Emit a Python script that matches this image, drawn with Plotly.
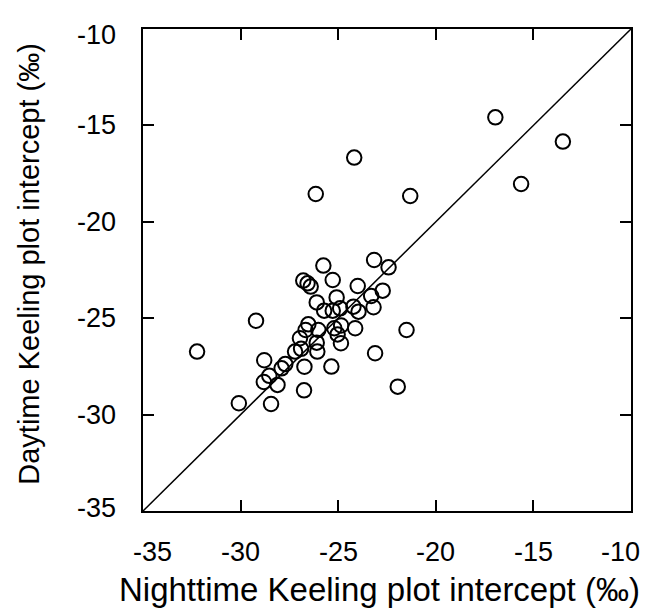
import plotly.graph_objects as go

night = [-16.95, -13.49, -24.18, -15.63, -26.15, -21.31,
         -25.76, -26.79, -26.57, -26.41, -25.28, -23.16, -22.42, -24.00, -22.72,
         -23.31, -23.19, -25.08, -26.10, -25.72, -25.28, -24.90, -24.22, -23.96,
         -29.21, -21.50, -26.53, -26.67, -26.02, -25.20, -24.85, -24.13, -25.03,
         -24.86, -26.96, -26.10, -26.90, -27.21, -26.07, -32.23, -23.11, -28.79,
         -27.71, -27.90, -26.73, -25.35, -28.53, -28.81, -28.11, -21.95, -26.75,
         -30.09, -28.44]
day = [-14.58, -15.84, -16.67, -18.04, -18.56, -18.66,
       -22.27, -23.05, -23.19, -23.36, -23.02, -21.98, -22.36, -23.33, -23.57,
       -23.85, -24.43, -23.92, -24.18, -24.61, -24.61, -24.49, -24.40, -24.66,
       -25.13, -25.61, -25.32, -25.61, -25.61, -25.52, -25.38, -25.52, -25.84,
       -26.30, -26.04, -26.27, -26.59, -26.73, -26.73, -26.73, -26.82, -27.18,
       -27.38, -27.60, -27.52, -27.51, -27.99, -28.31, -28.46, -28.55, -28.74,
       -29.41, -29.45]

line_x = [-35, -10]
line_y = [-35, -10]
tick_vals = [-35, -30, -25, -20, -15, -10]
tick_text = ["-35", "-30", "-25", "-20", "-15", "-10"]
x_title = "Nighttime Keeling plot intercept (‰)"
y_title = "Daytime Keeling plot intercept (‰)"

FONT = "Liberation Sans, Arial, Helvetica, sans-serif"
TICK_FONT = dict(family=FONT, size=27, color="black")

fig = go.Figure()
fig.add_trace(go.Scatter(x=line_x, y=line_y, mode="lines",
                         line=dict(color="black", width=1.5),
                         hoverinfo="skip", showlegend=False))
fig.add_trace(go.Scatter(x=night, y=day, mode="markers",
                         marker=dict(symbol="circle-open", size=14.5,
                                     color="black", line=dict(width=2, color="black")),
                         showlegend=False))

frame = dict(
    range=[-35, -10], tickvals=tick_vals, showticklabels=False,
    ticks="inside", ticklen=11, tickwidth=1.5, tickcolor="black",
    showline=True, linecolor="black", linewidth=1.8, mirror="ticks",
    showgrid=False, zeroline=False,
)

annotations = []
# tick labels; the two end labels sit pulled slightly inward, as in the reference
n = len(tick_vals)
for i, (v, t) in enumerate(zip(tick_vals, tick_text)):
    xs = 9 if i == 0 else (-11 if i == n - 1 else 0)
    annotations.append(dict(text=t, x=v, xref="x", y=0, yref="paper",
                            xanchor="center", yanchor="middle",
                            xshift=xs, yshift=-41, showarrow=False, font=TICK_FONT))
    ys = 3 if i == 0 else (-6 if i == n - 1 else 0)
    annotations.append(dict(text=t, x=0, xref="paper", y=v, yref="y",
                            xanchor="right", yanchor="middle",
                            xshift=-25, yshift=ys, showarrow=False, font=TICK_FONT))

annotations.append(dict(text=x_title, xref="paper", yref="paper", x=0.484, y=-0.163,
                        xanchor="center", yanchor="middle", showarrow=False,
                        font=dict(family=FONT, size=33, color="black")))
annotations.append(dict(text=y_title, xref="paper", yref="paper", x=-0.2336, y=0.513,
                        xanchor="center", yanchor="middle", textangle=-90,
                        showarrow=False,
                        font=dict(family=FONT, size=29, color="black")))

fig.update_layout(
    width=653, height=616,
    margin=dict(l=135, r=30, t=21, b=113),
    paper_bgcolor="white", plot_bgcolor="white",
    xaxis=dict(**frame),
    yaxis=dict(**frame),
    annotations=annotations,
)

fig.write_html("out.html")
